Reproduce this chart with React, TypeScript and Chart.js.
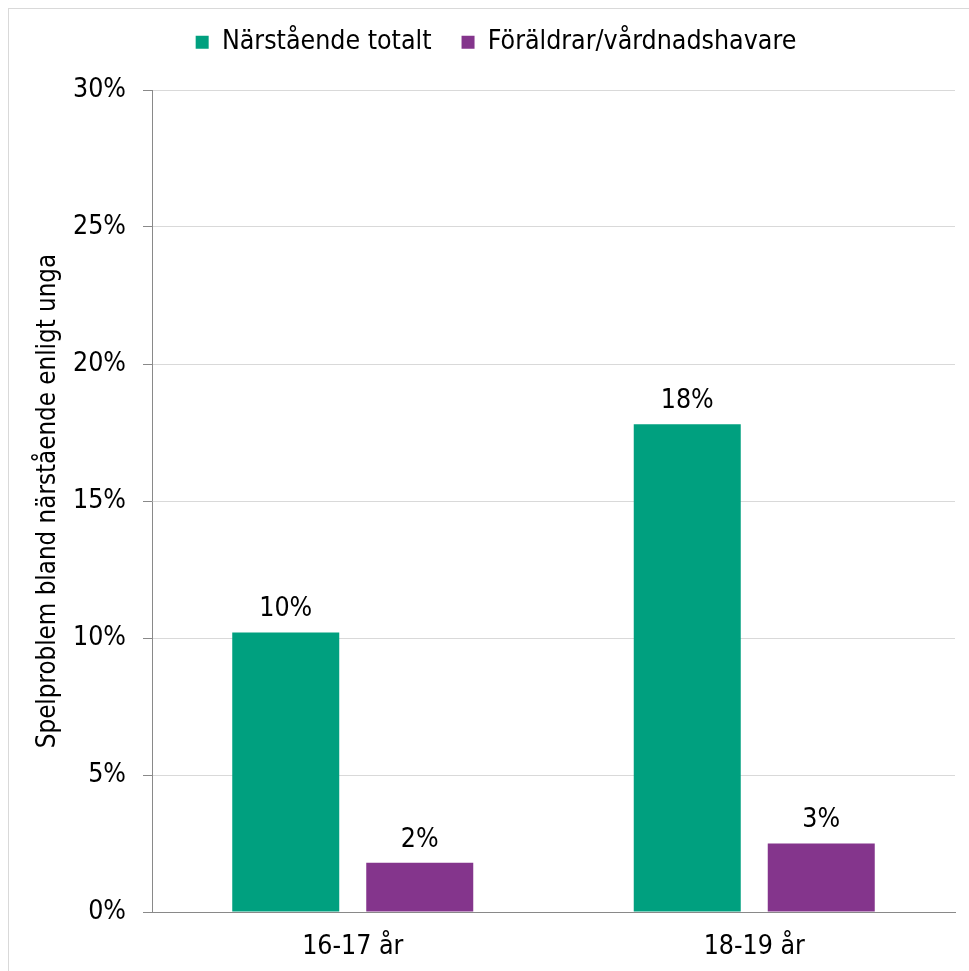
import React, { useEffect, useRef } from "react";
import { Chart, registerables } from "chart.js";

Chart.register(...registerables);

const categories = ["16-17 år", "18-19 år"];
const seriesNames = ["Närstående totalt", "Föräldrar/vårdnadshavare"];
const totalValues = [10.2, 17.8];
const parentValues = [1.8, 2.5];
const yTicks = [0, 5, 10, 15, 20, 25, 30];
const yTitle = "Spelproblem bland närstående enligt unga";

const GREEN = "#00A07F";
const PURPLE = "#84358C";
const FONT = "'DejaVu Sans Condensed', 'DejaVu Sans', sans-serif";
const FS = 26.5;

const dataLabels = {
  id: "dataLabels",
  afterDatasetsDraw(chart: any) {
    const ctx = chart.ctx;
    ctx.save();
    ctx.font = `${FS}px ${FONT}`;
    ctx.fillStyle = "#000";
    ctx.textAlign = "center";
    ctx.textBaseline = "middle";
    chart.data.datasets.forEach((ds: any, i: number) => {
      const meta = chart.getDatasetMeta(i);
      meta.data.forEach((bar: any, j: number) => {
        const v = ds.data[j];
        ctx.fillText(Math.round(v) + "%", bar.x, bar.y - 23);
      });
    });
    ctx.restore();
  },
};

const legendTweak = {
  id: "legendTweak",
  beforeInit(chart: any) {
    const legend = chart.legend;
    if (!legend) return;
    const orig = legend.fit;
    legend.fit = function () {
      orig.call(this);
      this.height = 91;
    };
  },
  afterLayout(chart: any) {
    const l = chart.legend;
    if (!l) return;
    l.left += 14;
    l.right += 14;
  },
};

export default function App() {
  const ref = useRef<HTMLCanvasElement>(null);
  useEffect(() => {
    if (!ref.current) return;
    Chart.defaults.font.family = FONT;
    const chart = new Chart(ref.current, {
      type: "bar",
      data: {
        labels: categories,
        datasets: [
          {
            label: seriesNames[0],
            data: totalValues,
            backgroundColor: GREEN,
            categoryPercentage: 0.6675,
            barPercentage: 0.7985,
          },
          {
            label: seriesNames[1],
            data: parentValues,
            backgroundColor: PURPLE,
            categoryPercentage: 0.6675,
            barPercentage: 0.7985,
          },
        ],
      },
      options: {
        responsive: false,
        animation: false,
        layout: { padding: { left: 0, right: 14, top: -10, bottom: 0 } },
        plugins: {
          tooltip: { enabled: false },
          legend: {
            position: "top",
            labels: {
              boxWidth: 13,
              boxHeight: 13,
              padding: 30,
              color: "#000",
              font: { size: FS, family: FONT },
            },
          },
        },
        scales: {
          x: {
            grid: { display: true, drawOnChartArea: false, drawTicks: false },
            border: { display: true, color: "#898989", width: 1 },
            ticks: { color: "#000", font: { size: FS, family: FONT }, padding: 19 },
            afterFit: (s: any) => {
              s.height = 59;
            },
          },
          y: {
            min: 0,
            max: 30,
            afterBuildTicks: (s: any) => {
              s.ticks = yTicks.map((v) => ({ value: v }));
            },
            grid: {
              color: "#D9D9D9",
              tickColor: "#898989",
              tickLength: 9,
              lineWidth: 1,
            },
            border: { display: true, color: "#898989", width: 1 },
            ticks: {
              color: "#000",
              font: { size: FS, family: FONT },
              padding: 17,
              callback: (v: any) => v + "%",
            },
            title: {
              display: true,
              text: yTitle,
              color: "#000",
              font: { size: 25.7, family: FONT },
              padding: { top: 24, bottom: 0 },
            },
            afterFit: (s: any) => {
              s.width = 143;
            },
          },
        },
      },
      plugins: [dataLabels, legendTweak],
    });
    return () => chart.destroy();
  }, []);
  return (
    <div
      style={{
        position: "fixed",
        left: 8,
        top: 8,
        width: 960,
        height: 962,
        borderLeft: "1px solid #D9D9D9",
        borderTop: "1px solid #D9D9D9",
        background: "#fff",
      }}
    >
      <canvas ref={ref} width={960} height={962} style={{ display: "block" }} />
    </div>
  );
}
